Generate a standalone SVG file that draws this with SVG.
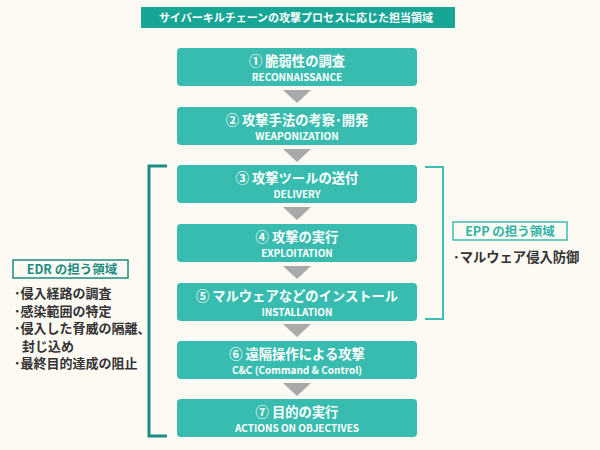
<svg xmlns="http://www.w3.org/2000/svg" width="600" height="450" viewBox="0 0 600 450">
<defs>
<style>
text{font-family:"Noto Sans CJK JP","Noto Sans",sans-serif;font-weight:bold}
.box{fill:#38bcaf}
.jp{fill:#fff;font-size:13.3px;text-anchor:middle}
.en{fill:#fff;font-size:10px;text-anchor:middle}
.tri{fill:#a9a9a9}
.li{fill:#333;font-size:13px}
</style>
</defs>
<rect width="600" height="450" fill="#fdfaf3"/>
<g id="title">
<rect x="141" y="7" width="314" height="21" fill="#17a596"/>
<text x="296" y="22" fill="#fff" font-size="11" text-anchor="middle">サイバーキルチェーンの攻撃プロセスに応じた担当領域</text>
</g>
<g id="connectors">
<polygon class="tri" points="283,90 311,90 297,103"/>
<polygon class="tri" points="283,149 311,149 297,162"/>
<polygon class="tri" points="283,207 311,207 297,220"/>
<polygon class="tri" points="283,266 311,266 297,279"/>
<polygon class="tri" points="283,324 311,324 297,337"/>
<polygon class="tri" points="283,383 311,383 297,396"/>
</g>
<g id="n1"><rect class="box" x="177" y="48" width="240" height="38" rx="4"/><text class="jp" x="297" y="66">① 脆弱性の調査</text><text class="en" x="297" y="80.5">RECONNAISSANCE</text></g>
<g id="n2"><rect class="box" x="177" y="107" width="240" height="38" rx="4"/><text class="jp" x="297" y="125">② 攻撃手法の考察･開発</text><text class="en" x="297" y="139.5">WEAPONIZATION</text></g>
<g id="n3"><rect class="box" x="177" y="165" width="240" height="38" rx="4"/><text class="jp" x="297" y="183">③ 攻撃ツールの送付</text><text class="en" x="297" y="197.5">DELIVERY</text></g>
<g id="n4"><rect class="box" x="177" y="224" width="240" height="38" rx="4"/><text class="jp" x="297" y="242">④ 攻撃の実行</text><text class="en" x="297" y="256.5">EXPLOITATION</text></g>
<g id="n5"><rect class="box" x="177" y="283" width="240" height="38" rx="4"/><text class="jp" x="297" y="301">⑤ マルウェアなどのインストール</text><text class="en" x="297" y="315.5">INSTALLATION</text></g>
<g id="n6"><rect class="box" x="177" y="341" width="240" height="38" rx="4"/><text class="jp" x="297" y="359">⑥ 遠隔操作による攻撃</text><text class="en" x="297" y="373.5">C&amp;C (Command &amp; Control)</text></g>
<g id="n7"><rect class="box" x="177" y="399" width="240" height="38" rx="4"/><text class="jp" x="297" y="417">⑦ 目的の実行</text><text class="en" x="297" y="431.5">ACTIONS ON OBJECTIVES</text></g>
<g id="edr">
<polyline points="167,166 149,166 149,436 167,436" fill="none" stroke="#1c8c82" stroke-width="3"/>
<rect x="13" y="260" width="115" height="18" fill="none" stroke="#1c8c82" stroke-width="1.5"/>
<text x="72" y="274" fill="#1c8c82" font-size="12.5" text-anchor="middle">EDR の担う領域</text>
<text class="li" x="14" y="298">･侵入経路の調査</text>
<text class="li" x="14" y="315.5">･感染範囲の特定</text>
<text class="li" x="14" y="333">･侵入した脅威の隔離、</text>
<text class="li" x="22" y="350.5">封じ込め</text>
<text class="li" x="14" y="368">･最終目的達成の阻止</text>
</g>
<g id="epp">
<polyline points="425,167 443,167 443,319 425,319" fill="none" stroke="#3bbfb2" stroke-width="2"/>
<rect x="453" y="222" width="114" height="18" fill="none" stroke="#3bbfb2" stroke-width="1.5"/>
<text x="510" y="236" fill="#2fb3a6" font-size="12.5" text-anchor="middle">EPP の担う領域</text>
<text class="li" x="453" y="262" style="font-size:13.3px">･マルウェア侵入防御</text>
</g>
</svg>
